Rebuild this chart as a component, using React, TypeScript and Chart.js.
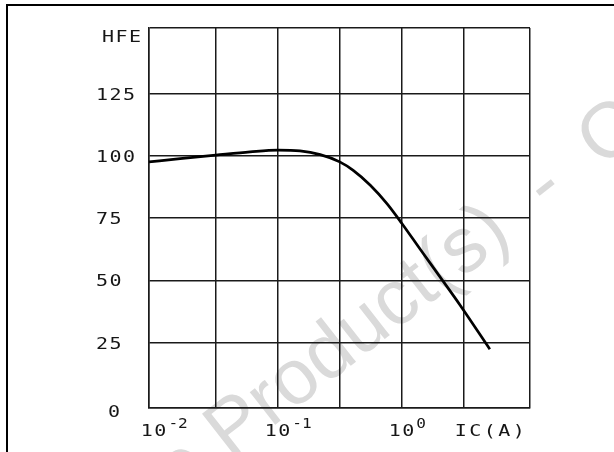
import React, { useEffect, useRef } from "react";
import { Chart, registerables } from "chart.js";

Chart.register(...registerables);

// Collector current IC (A) and DC current gain HFE
const icAmps = [0.00914, 0.0163, 0.0316, 0.0598, 0.1, 0.151, 0.22, 0.316, 0.406, 0.558, 0.76, 1.0, 1.41, 2.05, 2.97, 5.14];
const hfeValues = [97.7, 99.0, 100.4, 101.7, 102.4, 102.1, 100.6, 97.7, 94.3, 88.3, 80.9, 73.0, 62.5, 51.2, 39.9, 22.3];

// Axis extents and grid lines
const xMin = 0.00914;
const xMax = 10.84;
const xGridValues = [0.0316, 0.1, 0.316, 1, 3.16];
const yMin = -1.4;
const yMax = 151.6;
const yGridValues = [25, 50, 75, 100, 125];

// Tick labels
const yTickValues = [0, 25, 50, 75, 100, 125, 150];
const yTickLabels = ["0", "25", "50", "75", "100", "125", "HFE"];
const xTickValues = [0.01, 0.1, 1];
const xTickBases = ["10", "10", "10"];
const xTickExponents = ["-2", "-1", "0"];
const xAxisTitle = "IC(A)";
const watermarkLeft = "Obsolete ";
const watermarkRight = "Product(s)  -  Obsolete Product(s)";

const FONT = '"DejaVu Sans Mono", monospace';
const XSCALE = 1.25;

function drawSpaced(ctx: CanvasRenderingContext2D, text: string, x: number, y: number, adv: number) {
  ctx.textAlign = "left";
  for (let i = 0; i < text.length; i++) {
    ctx.save();
    ctx.translate(x + i * adv, y);
    ctx.scale(XSCALE, 1);
    ctx.fillText(text[i], 0, 0);
    ctx.restore();
  }
  return x + (text.length - 1) * adv + ctx.measureText(text[text.length - 1]).width * XSCALE;
}

const labelsPlugin = {
  id: "hfeLabels",
  beforeDraw(chart: any) {
    const ctx = chart.ctx as CanvasRenderingContext2D;
    ctx.save();
    ctx.fillStyle = "#ffffff";
    ctx.fillRect(0, 0, chart.width, chart.height);
    ctx.translate(230, 460);
    ctx.rotate((-38 * Math.PI) / 180);
    ctx.font = '78px "Liberation Sans", Arial, sans-serif';
    ctx.fillStyle = "#dadada";
    ctx.textBaseline = "alphabetic";
    ctx.textAlign = "left";
    ctx.fillText(watermarkRight, 0, 0);
    ctx.textAlign = "right";
    ctx.fillText(watermarkLeft, 0, 0);
    ctx.restore();
  },
  afterDraw(chart: any) {
    const ctx = chart.ctx as CanvasRenderingContext2D;
    const xs = chart.scales.x;
    const ys = chart.scales.y;
    const area = chart.chartArea;
    ctx.save();
    ctx.fillStyle = "#161616";
    ctx.textBaseline = "middle";
    ctx.font = "16px " + FONT;
    yTickValues.forEach((v, i) => {
      const label = yTickLabels[i];
      const py = ys.getPixelForValue(v);
      if (i === 0) {
        drawSpaced(ctx, label, area.left - 41, area.bottom + 5, 13.5);
      } else if (i === yTickValues.length - 1) {
        drawSpaced(ctx, label, area.left - 47, area.top + 10, 13.5);
      } else {
        drawSpaced(ctx, label, area.left - 53, py + 2, 13.5);
      }
    });
    const baseY = area.bottom + 24;
    xTickValues.forEach((v, i) => {
      const px = xs.getPixelForValue(v);
      ctx.font = "16px " + FONT;
      const end = drawSpaced(ctx, xTickBases[i], px - 13, baseY, 13.5);
      ctx.font = "14px " + FONT;
      ctx.save();
      ctx.translate(end + 2, baseY - 8);
      ctx.scale(1.15, 1);
      ctx.textAlign = "left";
      ctx.fillText(xTickExponents[i], 0, 0);
      ctx.restore();
    });
    ctx.font = "16px " + FONT;
    drawSpaced(ctx, xAxisTitle, xs.getPixelForValue(xGridValues[4]) - 9, baseY, 14.5);
    ctx.restore();
  },
};

export default function App() {
  const ref = useRef<HTMLCanvasElement | null>(null);
  useEffect(() => {
    if (!ref.current) return;
    const gridColor = "#1a1a1a";
    const chart = new Chart(ref.current, {
      type: "line",
      data: {
        datasets: [
          {
            label: "HFE",
            data: icAmps.map((x, i) => ({ x, y: hfeValues[i] })),
            borderColor: "#000000",
            borderWidth: 2.7,
            pointRadius: 0,
            fill: false,
            cubicInterpolationMode: "monotone",
          },
        ],
      },
      options: {
        animation: false,
        responsive: false,
        devicePixelRatio: 1,
        layout: { padding: { left: 149, right: 84, top: 28, bottom: 44 } },
        plugins: { legend: { display: false }, tooltip: { enabled: false } },
        scales: {
          x: {
            type: "logarithmic",
            min: xMin,
            max: xMax,
            bounds: "data",
            afterBuildTicks: (scale: any) => {
              scale.ticks = [xMin, ...xGridValues, xMax].map((value) => ({ value }));
            },
            ticks: { display: false },
            grid: { color: gridColor, lineWidth: 1.5, drawTicks: false },
            border: { display: true, color: gridColor, width: 1.5 },
          },
          y: {
            type: "linear",
            min: yMin,
            max: yMax,
            bounds: "data",
            afterBuildTicks: (scale: any) => {
              scale.ticks = [yMin, ...yGridValues, yMax].map((value) => ({ value }));
            },
            ticks: { display: false },
            grid: { color: gridColor, lineWidth: 1.5, drawTicks: false },
            border: { display: true, color: gridColor, width: 1.5 },
          },
        },
      },
      plugins: [labelsPlugin],
    });
    return () => chart.destroy();
  }, []);
  return (
    <div style={{ position: "fixed", left: 0, top: 0, width: 614, height: 452, overflow: "hidden", background: "#fff" }}>
      <canvas ref={ref} width={614} height={452} style={{ position: "absolute", left: 0, top: 0 }} />
      <div
        style={{
          position: "absolute",
          left: 6,
          top: 4,
          width: 620,
          height: 460,
          borderLeft: "2px solid #000",
          borderTop: "2px solid #000",
          pointerEvents: "none",
        }}
      />
    </div>
  );
}
